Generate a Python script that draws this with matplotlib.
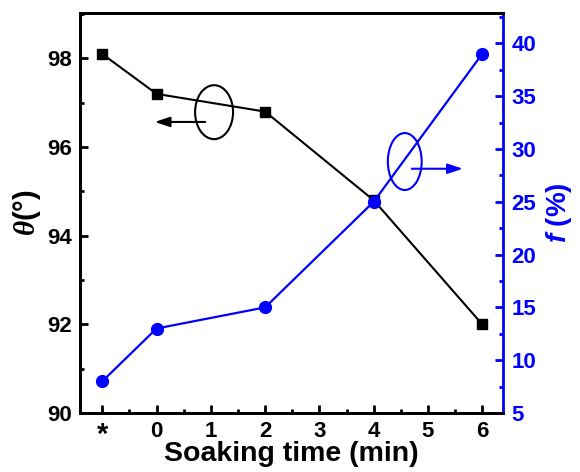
import matplotlib
matplotlib.use("Agg")
import matplotlib.pyplot as plt
from matplotlib.patches import Ellipse
from matplotlib.ticker import MultipleLocator

plt.rcParams['font.family'] = ['Liberation Sans', 'DejaVu Sans']
plt.rcParams['font.weight'] = 'bold'
plt.rcParams['mathtext.fontset'] = 'custom'
plt.rcParams['mathtext.it'] = 'Liberation Serif:italic:bold'
plt.rcParams['mathtext.bf'] = 'Liberation Sans:italic:bold'

x_pos = [-1, 0, 2, 4, 6]
theta = [98.1, 97.2, 96.8, 94.8, 92.0]
f_vals = [8, 13, 15, 25, 39]
xtick_pos = [-1, 0, 1, 2, 3, 4, 5, 6]
xtick_labels = ['*', '0', '1', '2', '3', '4', '5', '6']

fig = plt.figure(figsize=(5.8, 4.72), dpi=100)
ax = fig.add_axes([0.138, 0.125, 0.729, 0.847])
ax2 = ax.twinx()

ax.plot(x_pos, theta, color='black', lw=1.5, marker='s', ms=7, zorder=3)
ax2.plot(x_pos, f_vals, color='blue', lw=1.6, marker='o', ms=8.5, zorder=3)

ax.set_xlim(-1.41, 6.38)
ax.set_ylim(90, 99.02)
ax2.set_ylim(5, 42.85)

ax.set_xticks(xtick_pos)
ax.set_xticklabels(xtick_labels)
ax.xaxis.set_minor_locator(MultipleLocator(0.5))
ax.yaxis.set_major_locator(MultipleLocator(2))
ax.yaxis.set_minor_locator(MultipleLocator(1))
ax2.yaxis.set_major_locator(MultipleLocator(5))
ax2.yaxis.set_minor_locator(MultipleLocator(2.5))

for a in (ax, ax2):
    for s in a.spines.values():
        s.set_linewidth(2)
ax2.spines['right'].set_color('blue')
ax.spines['right'].set_visible(False)

ax.tick_params(axis='both', which='major', direction='in', length=6, width=2,
               labelsize=16, pad=6)
ax.tick_params(axis='both', which='minor', direction='in', length=3, width=2)
ax.tick_params(axis='x', which='major', pad=6)
ax2.tick_params(axis='y', which='major', direction='in', length=6, width=2,
                labelsize=16, colors='blue', pad=6)
ax2.tick_params(axis='y', which='minor', direction='in', length=3, width=2,
                colors='blue')
for lab in ax.get_xticklabels():
    if lab.get_text() == '*':
        lab.set_fontsize(21)

ax.set_xlabel('Soaking time (min)', fontsize=20.5, fontweight='bold', labelpad=-6)
ax.set_ylabel(r'$\mathit{\theta}$(°)', fontsize=21, fontweight='bold', labelpad=3)
ax2.set_ylabel(r'$\mathbf{f}$ (%)', fontsize=20, fontweight='bold',
               color='blue', labelpad=6)

# annotations (axes fraction coordinates)
ax.add_patch(Ellipse((0.317, 0.7525), 0.0898, 0.135, transform=ax.transAxes,
                     fill=False, ec='black', lw=1.5, zorder=4))
ax.annotate('', xy=(0.17, 0.728), xytext=(0.3026, 0.728),
            xycoords='axes fraction', textcoords='axes fraction',
            arrowprops=dict(arrowstyle='-|>,head_length=0.9,head_width=0.3',
                            color='black', lw=1.5))
ax.add_patch(Ellipse((0.768, 0.629), 0.080, 0.1425, transform=ax.transAxes,
                     fill=False, ec='blue', lw=1.5, zorder=4))
ax.annotate('', xy=(0.912, 0.611), xytext=(0.778, 0.611),
            xycoords='axes fraction', textcoords='axes fraction',
            arrowprops=dict(arrowstyle='-|>,head_length=0.9,head_width=0.3',
                            color='blue', lw=1.5))

fig.savefig('out.png', dpi=100)
